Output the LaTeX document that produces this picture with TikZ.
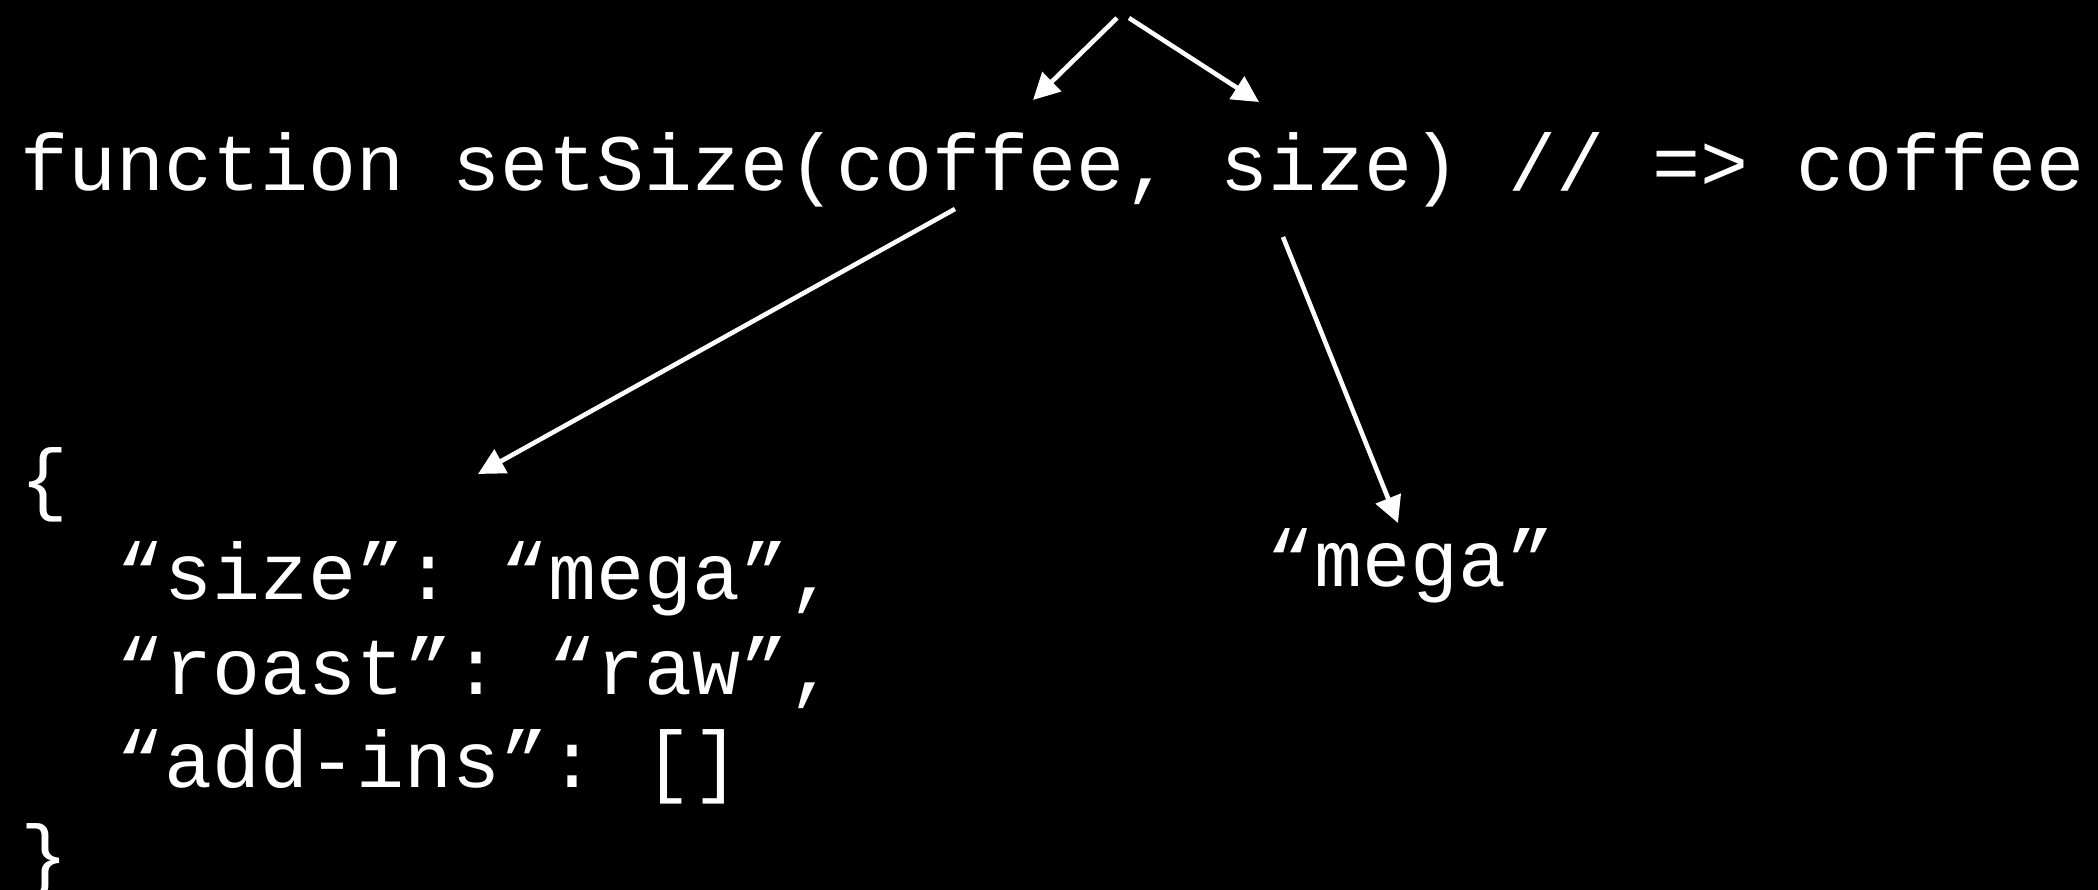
\documentclass[tikz,border=0pt]{standalone}
\usepackage{fontspec}
\setmonofont{Liberation Mono}
\usetikzlibrary{arrows.meta, positioning}
\tikzset{
  % white pointers on a black slide
  every picture/.append style = {line width=1.3pt, >={Triangle[length=7.5pt, width=7.5pt]}},
  code/.style    = {font=\ttfamily\fontsize{22.76pt}{27pt}\selectfont, text=white,
                    anchor=base west, inner sep=0pt},
  pointer/.style = {->, white, line width=1.3pt},
}

\begin{document}
\begin{tikzpicture}[x=1cm, y=1cm]
  \fill[black] (0,0) rectangle (20.98,-8.90);
  \useasboundingbox (0,0) rectangle (20.98,-8.90);
  % function signature
  \node[code] (sig) at (0.18,-1.91) {function setSize(coffee, size) // => coffee};
  % coffee object
  \node[code] (open)   at (0.18,-5.06) {\{};
  \node[code] (size)   at (1.14,-6.00) {“size”: “mega”,};
  \node[code] (roast)  at (1.14,-6.95) {“roast”: “raw”,};
  \node[code] (addins) at (1.14,-7.88) {“add-ins”: []};
  \node[code] (close)  at (0.18,-8.82) {\}};
  % size value
  \node[code] (mega) at (12.64,-5.87) {“mega”};
  % arrow ends
  \coordinate (inL)       at (11.17,-0.18);
  \coordinate (inR)       at (11.29,-0.18);
  \coordinate (coffeeArg) at (10.33,-1.00);
  \coordinate (sizeArg)   at (12.59,-1.02);
  \coordinate (coffeeOut) at (9.55,-2.09);
  \coordinate (objTop)    at (4.78,-4.74);
  \coordinate (sizeOut)   at (12.83,-2.37);
  \coordinate (megaTop)   at (13.98,-5.23);
  % arguments in
  \draw[pointer] (inL) -- (coffeeArg);
  \draw[pointer] (inR) -- (sizeArg);
  % arguments to values
  \draw[pointer] (coffeeOut) -- (objTop);
  \draw[pointer] (sizeOut) -- (megaTop);
\end{tikzpicture}
\end{document}
